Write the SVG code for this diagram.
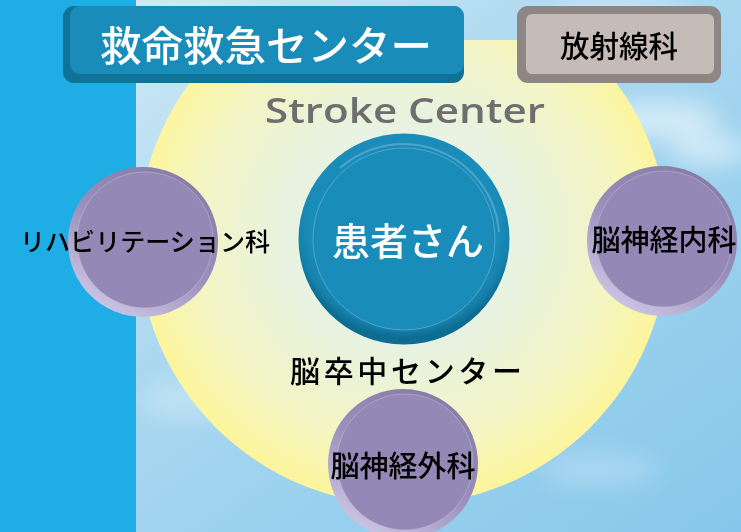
<svg xmlns="http://www.w3.org/2000/svg" width="741" height="532" viewBox="0 0 741 532">
  <defs>
    <linearGradient id="sky" x1="0" y1="0" x2="1" y2="1">
      <stop offset="0" stop-color="#d6ecf7"/>
      <stop offset="0.45" stop-color="#aad8f0"/>
      <stop offset="1" stop-color="#86c7eb"/>
    </linearGradient>
    <radialGradient id="sun" cx="403" cy="235" r="265" gradientUnits="userSpaceOnUse">
      <stop offset="0" stop-color="#eef6f0"/>
      <stop offset="0.45" stop-color="#e8f2e0"/>
      <stop offset="0.78" stop-color="#f3f5c4"/>
      <stop offset="1" stop-color="#fcf59e"/>
    </radialGradient>
    <radialGradient id="ring" cx="0.5" cy="0.42" r="0.55">
      <stop offset="0.82" stop-color="#1a8cba"/>
      <stop offset="0.92" stop-color="#1681ad"/>
      <stop offset="1" stop-color="#0c6c91"/>
    </radialGradient>
    <linearGradient id="prim" x1="0.8" y1="0" x2="0.2" y2="1">
      <stop offset="0" stop-color="#8579a5"/>
      <stop offset="0.5" stop-color="#9a8fbb"/>
      <stop offset="1" stop-color="#d2cbe8"/>
    </linearGradient>
    <clipPath id="sunclip">
      <rect x="0" y="40" width="741" height="492"/>
    </clipPath>
    <filter id="blur" x="-50%" y="-50%" width="200%" height="200%">
      <feGaussianBlur stdDeviation="12"/>
    </filter>
    <style>
      .jp { font-family: "Noto Sans CJK JP", "Noto Sans", sans-serif; font-weight: 500; }
      .purple-face { fill: #9489b6; stroke: #c9c1dc; stroke-width: 0.8; stroke-opacity: 0.6; }
      .purple-rim { fill: url(#prim); }
    </style>
  </defs>

  <!-- background -->
  <rect x="0" y="0" width="741" height="532" fill="url(#sky)"/>
  <g filter="url(#blur)" fill="#ffffff" opacity="0.55">
    <ellipse cx="660" cy="120" rx="60" ry="18"/>
    <ellipse cx="710" cy="150" rx="40" ry="14"/>
    <ellipse cx="200" cy="30" rx="80" ry="16"/>
    <ellipse cx="620" cy="20" rx="70" ry="14"/>
    <ellipse cx="190" cy="400" rx="50" ry="20" opacity="0.5"/>
    <ellipse cx="600" cy="470" rx="60" ry="18" opacity="0.4"/>
  </g>
  <rect x="0" y="0" width="136" height="532" fill="#1fade5"/>

  <!-- sun circle -->
  <circle cx="403" cy="240" r="265" fill="url(#sun)" clip-path="url(#sunclip)"/>

  <text x="405" y="123" font-family="'Open Sans', 'Noto Sans', sans-serif" font-weight="600" font-size="35" fill="#6e6e6e" text-anchor="middle" textLength="280" lengthAdjust="spacingAndGlyphs">Stroke Center</text>

  <g id="connectors"/>

  <!-- 救命救急センター -->
  <g id="emergency">
    <rect x="63" y="6" width="401" height="77" rx="11" fill="#0f7398"/>
    <rect x="70" y="6" width="394" height="68" rx="10" fill="#1a8cba"/>
    <text x="266" y="61" class="jp" font-size="41" fill="#ffffff" text-anchor="middle" textLength="332" lengthAdjust="spacingAndGlyphs">救命救急センター</text>
  </g>

  <!-- 放射線科 -->
  <g id="radiology">
    <rect x="517" y="6" width="204" height="77" rx="11" fill="#8e8684"/>
    <rect x="526" y="14" width="188" height="60" rx="6" fill="#c5bcb8"/>
    <text x="619" y="57" class="jp" font-size="29.5" fill="#000000" text-anchor="middle">放射線科</text>
  </g>

  <!-- 患者さん -->
  <g id="patient">
    <circle cx="404" cy="239" r="105.5" fill="url(#ring)"/>
    <path d="M 340 168 A 96 96 0 0 1 499 232" fill="none" stroke="#ffffff" stroke-opacity="0.22" stroke-width="2"/>
    <circle cx="404" cy="239" r="91" fill="#1a8cba" stroke="#ffffff" stroke-opacity="0.3" stroke-width="0.8"/>
    <text x="408" y="255" class="jp" font-size="38" fill="#ffffff" text-anchor="middle">患者さん</text>
  </g>

  <!-- 脳卒中センター label -->
  <text x="406" y="382" class="jp" font-size="30" fill="#000000" text-anchor="middle" textLength="232" lengthAdjust="spacing">脳卒中センター</text>

  <!-- リハビリテーション科 -->
  <g id="rehab">
    <circle cx="143" cy="242" r="75" class="purple-rim"/>
    <circle cx="145" cy="240" r="68" class="purple-face"/>
    <text x="145" y="251" class="jp" font-size="25" fill="#000000" text-anchor="middle" textLength="250" lengthAdjust="spacingAndGlyphs">リハビリテーション科</text>
  </g>

  <!-- 脳神経内科 -->
  <g id="neurology">
    <circle cx="662" cy="241" r="75" class="purple-rim"/>
    <circle cx="664" cy="239" r="68" class="purple-face"/>
    <text x="664" y="251" class="jp" font-size="29" fill="#000000" text-anchor="middle">脳神経内科</text>
  </g>

  <!-- 脳神経外科 -->
  <g id="neurosurgery">
    <circle cx="403" cy="464" r="75" class="purple-rim"/>
    <circle cx="405" cy="462" r="68" class="purple-face"/>
    <text x="403" y="477" class="jp" font-size="29" fill="#000000" text-anchor="middle">脳神経外科</text>
  </g>
</svg>
